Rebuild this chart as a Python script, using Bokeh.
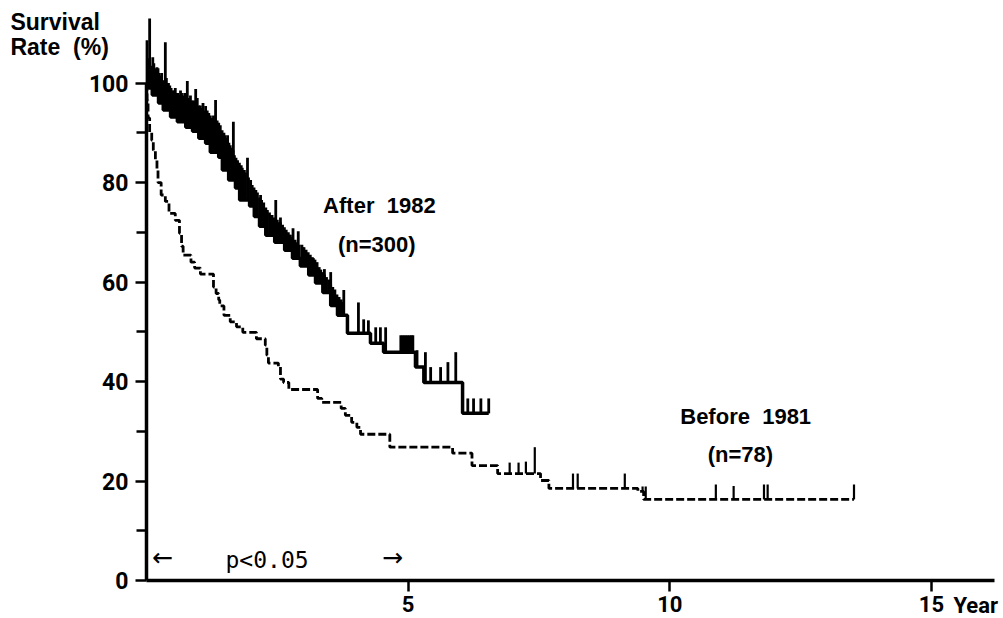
import numpy as np
from bokeh.plotting import figure
from bokeh.models import Range1d, FixedTicker, Label
from bokeh.embed import file_html
from bokeh.resources import INLINE

# ---------------- data ----------------
# After 1982 (n=300): Kaplan-Meier step curve (time in years, survival %)
after_times = [0.0, 0.04, 0.11, 0.23, 0.32, 0.46, 0.59, 0.75, 0.88, 1.00, 1.13, 1.22,
               1.38, 1.45, 1.57, 1.70, 1.78, 1.97, 2.06, 2.16, 2.28, 2.45, 2.64, 2.79,
               2.94, 3.10, 3.23, 3.37, 3.52, 3.65, 3.84, 4.28, 4.53, 5.14, 5.30, 6.04]
after_surv = [100, 99.0, 97.6, 96.0, 94.6, 93.2, 92.2, 91.1, 90.3, 88.9, 87.9, 86.1,
              85.1, 82.5, 80.5, 78.9, 76.5, 75.3, 73.2, 71.2, 69.4, 68.0, 66.4, 64.8,
              63.2, 61.4, 59.8, 57.9, 55.3, 53.3, 49.7, 47.7, 45.9, 42.9, 39.8, 33.6]
after_end = 6.54

# After 1982: censored observations (time, top of the censor mark in %)
after_cens_t = [0.03, 0.05, 0.08, 0.10, 0.14, 0.155, 0.17, 0.195, 0.22, 0.24, 0.26, 0.275,
                0.29, 0.31, 0.33, 0.355, 0.38, 0.40, 0.42, 0.445, 0.47, 0.495, 0.52, 0.55,
                0.57, 0.60, 0.625, 0.65, 0.67, 0.69, 0.71, 0.73, 0.765, 0.80, 0.82, 0.84,
                0.87, 0.90, 0.935, 0.97, 1.00, 1.03, 1.055, 1.08, 1.11, 1.16, 1.19, 1.22,
                1.25, 1.28, 1.31, 1.35, 1.38, 1.41, 1.445, 1.48, 1.50, 1.52, 1.55, 1.575,
                1.60, 1.63, 1.655, 1.68, 1.71, 1.74, 1.775, 1.81, 1.83, 1.85, 1.87, 1.89,
                1.95, 1.99, 2.02, 2.055, 2.09, 2.12, 2.16, 2.20, 2.24, 2.28, 2.31, 2.35,
                2.375, 2.40, 2.44, 2.50, 2.53, 2.56, 2.60, 2.635, 2.67, 2.71, 2.73, 2.75,
                2.78, 2.84, 2.88, 2.92, 2.97, 2.99, 3.01, 3.05, 3.09, 3.13, 3.17, 3.22,
                3.26, 3.30, 3.33, 3.36, 3.40, 3.44, 3.48, 3.52, 3.56, 3.60, 3.64, 3.68,
                3.72, 3.75,
                0.01, 0.06, 0.12, 0.20, 0.36, 0.50, 0.62, 0.78, 0.94, 1.13, 1.32, 1.66,
                1.93, 2.18, 2.47, 2.56, 2.80, 2.90, 3.19, 3.40, 3.52, 3.77,
                4.05, 4.15, 4.24, 4.38, 4.47, 4.57, 4.86, 4.90, 4.94, 4.98, 5.02, 5.06,
                5.09, 5.17, 5.33, 5.43, 5.62, 5.76, 5.91, 6.14, 6.25, 6.39, 6.54]
after_cens_top = [105, 104, 103.5, 102.5, 104, 103, 102.5, 102, 103, 102, 101.5, 101,
                  102, 100.5, 100.5, 100.5, 101, 100, 100, 99.5, 99, 98.5, 98.5, 99,
                  98, 98, 97.5, 98.5, 98, 97.5, 97, 98, 97.5, 97, 96.5, 97.5,
                  96.5, 96.5, 96, 97, 95.5, 95.5, 95, 96, 94.5, 94.5, 94, 93.5,
                  93, 93.5, 92.5, 92.5, 92, 91.5, 90.5, 90, 89.5, 89, 89.5, 88,
                  87.5, 87, 86.5, 85.5, 85, 84.5, 84, 83.5, 83, 82.5, 82.5, 82,
                  81, 80.5, 79.5, 79, 78.5, 78, 77, 76.5, 76, 75, 74.5, 74,
                  73.5, 73.5, 73, 72.5, 72, 72, 71.5, 71, 70.5, 70, 69.5, 69.5,
                  69, 68.5, 68, 67.5, 67.5, 67, 67, 66.5, 66, 65.5, 65, 64.5,
                  64, 63, 62.5, 62, 61.5, 61, 60.5, 59.5, 59, 58.5, 57.5, 57,
                  56.5, 56,
                  108.6, 113, 105.2, 103.2, 108.2, 98.4, 97.6, 100.4, 98.8, 95.4, 96.6, 92.2,
                  85.0, 77.5, 76.5, 73.0, 70.8, 70.2, 64.8, 62.6, 62.0, 58.4,
                  55.9, 52.5, 52.3, 50.9, 50.9, 50.9, 49.3, 49.3, 49.3, 49.3, 49.3, 49.3,
                  49.3, 46.3, 45.9, 42.9, 42.9, 43.9, 45.9, 36.6, 36.6, 36.6, 36.6]

# Before 1981 (n=78): Kaplan-Meier step curve
before_times = [0.0, 0.01, 0.03, 0.06, 0.10, 0.13, 0.17, 0.20, 0.22, 0.28, 0.36, 0.43,
                0.55, 0.63, 0.67, 0.70, 0.85, 0.92, 1.03, 1.28, 1.33, 1.38, 1.40, 1.48,
                1.60, 1.72, 1.84, 2.10, 2.27, 2.30, 2.33, 2.52, 2.56, 2.62, 2.72, 3.27,
                3.35, 3.72, 3.80, 3.92, 4.02, 4.09, 4.65, 5.85, 6.22, 6.71, 7.53, 7.69,
                9.39, 9.50]
before_surv = [100, 96.5, 93.0, 90.0, 88.5, 86.5, 84.5, 82.5, 80.0, 77.5, 76.2, 73.8,
               72.4, 69.8, 67.2, 65.4, 64.0, 62.8, 61.6, 59.0, 57.7, 56.4, 55.2, 53.3,
               52.0, 51.0, 49.9, 48.6, 47.3, 45.3, 43.7, 42.9, 40.5, 39.8, 38.4, 36.6,
               35.8, 34.6, 33.2, 31.8, 30.8, 29.4, 26.8, 25.6, 23.1, 21.5, 20.1, 18.5,
               17.9, 16.3]
before_end = 13.52

# Before 1981: censored observations
before_cens_t = [6.94, 7.11, 7.25, 7.42, 8.15, 8.24, 9.14, 9.48, 9.54, 10.88, 11.22,
                 11.80, 11.87, 13.52]
before_cens_top = [23.7, 23.7, 23.9, 26.8, 21.5, 21.5, 21.5, 18.9, 18.9, 19.3, 19.0,
                   19.3, 19.3, 19.3]

y_ticks = [0, 20, 40, 60, 80, 100]
y_minor = [10, 30, 50, 70, 90]
x_ticks = [5, 10, 15]
x_tick_labels = {5: "5", 10: "10", 15: "15"}


def surv_at(times, surv, t):
    idx = np.searchsorted(np.array(times), np.array(t), side="right") - 1
    return list(np.array(surv)[idx])


# ---------------- figure ----------------
# The frame fills the whole canvas; the axes are pinned at x=0 and y=0.
p = figure(width=1003, height=618, output_backend="svg", toolbar_location=None,
           x_range=Range1d(-2.79, 16.377), y_range=Range1d(-7.64, 116.6),
           min_border_left=0, min_border_right=0, min_border_top=0,
           min_border_bottom=0)
p.outline_line_color = None
p.xgrid.visible = False
p.ygrid.visible = False
p.background_fill_color = "white"
p.border_fill_color = "white"

TICK_FONT = "Roboto"

yax = p.yaxis[0]
yax.fixed_location = 0
yax.ticker = FixedTicker(ticks=y_ticks, minor_ticks=y_minor)
yax.bounds = (0, 100)
yax.axis_line_width = 3.5
yax.axis_line_color = "black"
yax.major_tick_line_width = 2.5
yax.major_tick_out = 11
yax.major_tick_in = 0
yax.minor_tick_line_width = 2.5
yax.minor_tick_out = 10
yax.minor_tick_in = 0
yax.major_label_standoff = 7
yax.major_label_text_font = TICK_FONT
yax.major_label_text_font_style = "bold"
yax.major_label_text_font_size = "23px"
yax.major_label_text_color = "black"

xax = p.xaxis[0]
xax.fixed_location = 0
xax.ticker = FixedTicker(ticks=x_ticks, minor_ticks=[])
xax.major_label_overrides = x_tick_labels
xax.bounds = (0, 16.2)
xax.axis_line_width = 3.5
xax.axis_line_color = "black"
xax.major_tick_line_width = 2.5
xax.major_tick_out = 11
xax.major_tick_in = 0
xax.minor_tick_line_color = None
xax.major_label_standoff = 5
xax.major_label_text_font = TICK_FONT
xax.major_label_text_font_style = "bold"
xax.major_label_text_font_size = "22px"
xax.major_label_text_color = "black"

# Before 1981 curve (dashed)
p.step(x=before_times + [before_end], y=before_surv + [before_surv[-1]], mode="after",
       line_color="black", line_width=2.8, line_dash="8 3")
p.segment(x0=before_cens_t, y0=surv_at(before_times, before_surv, before_cens_t),
          x1=before_cens_t, y1=before_cens_top, line_color="black", line_width=2.2)

# After 1982 curve (solid, heavy)
p.segment(x0=after_cens_t, y0=surv_at(after_times, after_surv, after_cens_t),
          x1=after_cens_t, y1=after_cens_top, line_color="black", line_width=2.8)
p.step(x=after_times + [after_end], y=after_surv + [after_surv[-1]], mode="after",
       line_color="black", line_width=3.5)

# ---------------- texts ----------------
def add_label(x, y, text, size, style="bold", font="Liberation Sans", align="left",
              baseline="middle"):
    p.add_layout(Label(x=x, y=y, text=text, text_font=font, text_font_size=size,
                       text_font_style=style, text_color="black", text_align=align,
                       text_baseline=baseline))

add_label(-2.6, 112.2, "Survival", "23px")
add_label(-2.6, 107.2, "Rate\u00a0\u00a0(%)", "23px")
add_label(4.45, 75.4, "After\u00a0\u00a01982", "22px", align="center")
add_label(4.4, 67.55, "(n=300)", "22px", align="center")
add_label(11.45, 33.0, "Before\u00a0\u00a01981", "22px", align="center")
add_label(11.35, 25.3, "(n=78)", "22px", align="center")
add_label(1.51, 4.1, "p<0.05", "23px", style="normal", font="DejaVu Sans Mono")
add_label(0.31, 4.6, "\u2190", "25px", style="normal", font="DejaVu Sans", align="center")
add_label(4.70, 4.6, "\u2192", "25px", style="normal", font="DejaVu Sans", align="center")
add_label(15.42, -5.0, "Year", "22px", font=TICK_FONT)

open("out.html", "w").write(file_html(p, INLINE))
